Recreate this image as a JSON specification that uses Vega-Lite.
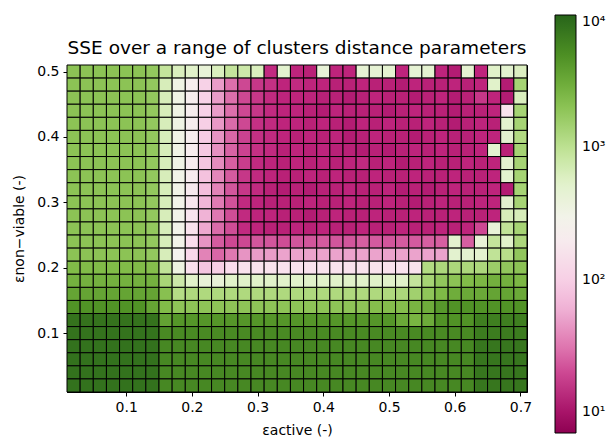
{
"$schema":"https://vega.github.io/schema/vega-lite/v6.json",
"autosize":"none",
"padding":{"left":67,"top":65,"right":88,"bottom":50},
"width":460,"height":327,
"background":"white",
"title":{"text":"SSE over a range of clusters distance parameters","fontSize":18.5,"fontWeight":"normal","font":"DejaVu Sans","color":"black","offset":8,"anchor":"middle","dy":50},
"data":{"values":[
{"x":0.02,"y":0.5,"v":2000},{"x":0.04,"y":0.5,"v":2000},{"x":0.06,"y":0.5,"v":2000},{"x":0.08,"y":0.5,"v":2000},{"x":0.1,"y":0.5,"v":2000},{"x":0.12,"y":0.5,"v":2000},{"x":0.14,"y":0.5,"v":1800},{"x":0.16,"y":0.5,"v":900},{"x":0.18,"y":0.5,"v":620},{"x":0.2,"y":0.5,"v":545},{"x":0.22,"y":0.5,"v":420},{"x":0.24,"y":0.5,"v":620},{"x":0.26,"y":0.5,"v":900},{"x":0.28,"y":0.5,"v":780},{"x":0.3,"y":0.5,"v":620},{"x":0.32,"y":0.5,"v":15},{"x":0.34,"y":0.5,"v":500},{"x":0.36,"y":0.5,"v":14},{"x":0.38,"y":0.5,"v":13},{"x":0.4,"y":0.5,"v":420},{"x":0.42,"y":0.5,"v":14},{"x":0.44,"y":0.5,"v":14},{"x":0.46,"y":0.5,"v":450},{"x":0.48,"y":0.5,"v":450},{"x":0.5,"y":0.5,"v":480},{"x":0.52,"y":0.5,"v":14},{"x":0.54,"y":0.5,"v":450},{"x":0.56,"y":0.5,"v":480},{"x":0.58,"y":0.5,"v":14},{"x":0.6,"y":0.5,"v":12},{"x":0.62,"y":0.5,"v":480},{"x":0.64,"y":0.5,"v":14},{"x":0.66,"y":0.5,"v":550},{"x":0.68,"y":0.5,"v":500},{"x":0.7,"y":0.5,"v":600},
{"x":0.02,"y":0.48,"v":2000},{"x":0.04,"y":0.48,"v":2000},{"x":0.06,"y":0.48,"v":2000},{"x":0.08,"y":0.48,"v":2000},{"x":0.1,"y":0.48,"v":2000},{"x":0.12,"y":0.48,"v":2000},{"x":0.14,"y":0.48,"v":1800},{"x":0.16,"y":0.48,"v":650},{"x":0.18,"y":0.48,"v":330},{"x":0.2,"y":0.48,"v":220},{"x":0.22,"y":0.48,"v":105},{"x":0.24,"y":0.48,"v":48},{"x":0.26,"y":0.48,"v":29},{"x":0.28,"y":0.48,"v":20},{"x":0.3,"y":0.48,"v":17},{"x":0.32,"y":0.48,"v":16},{"x":0.34,"y":0.48,"v":14},{"x":0.36,"y":0.48,"v":15},{"x":0.38,"y":0.48,"v":14},{"x":0.4,"y":0.48,"v":14},{"x":0.42,"y":0.48,"v":13},{"x":0.44,"y":0.48,"v":13},{"x":0.46,"y":0.48,"v":14},{"x":0.48,"y":0.48,"v":13},{"x":0.5,"y":0.48,"v":13},{"x":0.52,"y":0.48,"v":12},{"x":0.54,"y":0.48,"v":14},{"x":0.56,"y":0.48,"v":13},{"x":0.58,"y":0.48,"v":13},{"x":0.6,"y":0.48,"v":14},{"x":0.62,"y":0.48,"v":13},{"x":0.64,"y":0.48,"v":14},{"x":0.66,"y":0.48,"v":550},{"x":0.68,"y":0.48,"v":12},{"x":0.7,"y":0.48,"v":1400},
{"x":0.02,"y":0.46,"v":2000},{"x":0.04,"y":0.46,"v":2000},{"x":0.06,"y":0.46,"v":2000},{"x":0.08,"y":0.46,"v":2000},{"x":0.1,"y":0.46,"v":2000},{"x":0.12,"y":0.46,"v":2000},{"x":0.14,"y":0.46,"v":1800},{"x":0.16,"y":0.46,"v":650},{"x":0.18,"y":0.46,"v":330},{"x":0.2,"y":0.46,"v":220},{"x":0.22,"y":0.46,"v":105},{"x":0.24,"y":0.46,"v":48},{"x":0.26,"y":0.46,"v":29},{"x":0.28,"y":0.46,"v":20},{"x":0.3,"y":0.46,"v":17},{"x":0.32,"y":0.46,"v":15},{"x":0.34,"y":0.46,"v":14},{"x":0.36,"y":0.46,"v":14},{"x":0.38,"y":0.46,"v":14},{"x":0.4,"y":0.46,"v":13},{"x":0.42,"y":0.46,"v":13},{"x":0.44,"y":0.46,"v":12},{"x":0.46,"y":0.46,"v":13},{"x":0.48,"y":0.46,"v":14},{"x":0.5,"y":0.46,"v":13},{"x":0.52,"y":0.46,"v":13},{"x":0.54,"y":0.46,"v":12},{"x":0.56,"y":0.46,"v":13},{"x":0.58,"y":0.46,"v":14},{"x":0.6,"y":0.46,"v":12},{"x":0.62,"y":0.46,"v":13},{"x":0.64,"y":0.46,"v":17},{"x":0.66,"y":0.46,"v":14},{"x":0.68,"y":0.46,"v":12},{"x":0.7,"y":0.46,"v":620},
{"x":0.02,"y":0.44,"v":2000},{"x":0.04,"y":0.44,"v":2000},{"x":0.06,"y":0.44,"v":2000},{"x":0.08,"y":0.44,"v":2000},{"x":0.1,"y":0.44,"v":2000},{"x":0.12,"y":0.44,"v":2000},{"x":0.14,"y":0.44,"v":1800},{"x":0.16,"y":0.44,"v":650},{"x":0.18,"y":0.44,"v":330},{"x":0.2,"y":0.44,"v":220},{"x":0.22,"y":0.44,"v":105},{"x":0.24,"y":0.44,"v":48},{"x":0.26,"y":0.44,"v":29},{"x":0.28,"y":0.44,"v":20},{"x":0.3,"y":0.44,"v":17},{"x":0.32,"y":0.44,"v":15},{"x":0.34,"y":0.44,"v":14},{"x":0.36,"y":0.44,"v":14},{"x":0.38,"y":0.44,"v":13},{"x":0.4,"y":0.44,"v":12},{"x":0.42,"y":0.44,"v":14},{"x":0.44,"y":0.44,"v":13},{"x":0.46,"y":0.44,"v":13},{"x":0.48,"y":0.44,"v":13},{"x":0.5,"y":0.44,"v":12},{"x":0.52,"y":0.44,"v":13},{"x":0.54,"y":0.44,"v":14},{"x":0.56,"y":0.44,"v":13},{"x":0.58,"y":0.44,"v":13},{"x":0.6,"y":0.44,"v":12},{"x":0.62,"y":0.44,"v":13},{"x":0.64,"y":0.44,"v":13},{"x":0.66,"y":0.44,"v":14},{"x":0.68,"y":0.44,"v":150},{"x":0.7,"y":0.44,"v":1400},
{"x":0.02,"y":0.42,"v":2000},{"x":0.04,"y":0.42,"v":2000},{"x":0.06,"y":0.42,"v":2000},{"x":0.08,"y":0.42,"v":2000},{"x":0.1,"y":0.42,"v":2000},{"x":0.12,"y":0.42,"v":2000},{"x":0.14,"y":0.42,"v":1800},{"x":0.16,"y":0.42,"v":650},{"x":0.18,"y":0.42,"v":330},{"x":0.2,"y":0.42,"v":220},{"x":0.22,"y":0.42,"v":100},{"x":0.24,"y":0.42,"v":46},{"x":0.26,"y":0.42,"v":28},{"x":0.28,"y":0.42,"v":20},{"x":0.3,"y":0.42,"v":16},{"x":0.32,"y":0.42,"v":15},{"x":0.34,"y":0.42,"v":14},{"x":0.36,"y":0.42,"v":14},{"x":0.38,"y":0.42,"v":13},{"x":0.4,"y":0.42,"v":14},{"x":0.42,"y":0.42,"v":13},{"x":0.44,"y":0.42,"v":12},{"x":0.46,"y":0.42,"v":14},{"x":0.48,"y":0.42,"v":13},{"x":0.5,"y":0.42,"v":14},{"x":0.52,"y":0.42,"v":13},{"x":0.54,"y":0.42,"v":13},{"x":0.56,"y":0.42,"v":14},{"x":0.58,"y":0.42,"v":13},{"x":0.6,"y":0.42,"v":12},{"x":0.62,"y":0.42,"v":13},{"x":0.64,"y":0.42,"v":14},{"x":0.66,"y":0.42,"v":13},{"x":0.68,"y":0.42,"v":500},{"x":0.7,"y":0.42,"v":1400},
{"x":0.02,"y":0.4,"v":2000},{"x":0.04,"y":0.4,"v":2000},{"x":0.06,"y":0.4,"v":2000},{"x":0.08,"y":0.4,"v":2000},{"x":0.1,"y":0.4,"v":2000},{"x":0.12,"y":0.4,"v":2000},{"x":0.14,"y":0.4,"v":1800},{"x":0.16,"y":0.4,"v":650},{"x":0.18,"y":0.4,"v":320},{"x":0.2,"y":0.4,"v":215},{"x":0.22,"y":0.4,"v":95},{"x":0.24,"y":0.4,"v":44},{"x":0.26,"y":0.4,"v":27},{"x":0.28,"y":0.4,"v":19},{"x":0.3,"y":0.4,"v":16},{"x":0.32,"y":0.4,"v":15},{"x":0.34,"y":0.4,"v":14},{"x":0.36,"y":0.4,"v":13},{"x":0.38,"y":0.4,"v":14},{"x":0.4,"y":0.4,"v":13},{"x":0.42,"y":0.4,"v":14},{"x":0.44,"y":0.4,"v":12},{"x":0.46,"y":0.4,"v":13},{"x":0.48,"y":0.4,"v":14},{"x":0.5,"y":0.4,"v":13},{"x":0.52,"y":0.4,"v":13},{"x":0.54,"y":0.4,"v":12},{"x":0.56,"y":0.4,"v":13},{"x":0.58,"y":0.4,"v":14},{"x":0.6,"y":0.4,"v":13},{"x":0.62,"y":0.4,"v":13},{"x":0.64,"y":0.4,"v":14},{"x":0.66,"y":0.4,"v":14},{"x":0.68,"y":0.4,"v":500},{"x":0.7,"y":0.4,"v":1200},
{"x":0.02,"y":0.38,"v":2000},{"x":0.04,"y":0.38,"v":2000},{"x":0.06,"y":0.38,"v":2000},{"x":0.08,"y":0.38,"v":2000},{"x":0.1,"y":0.38,"v":2000},{"x":0.12,"y":0.38,"v":2000},{"x":0.14,"y":0.38,"v":1800},{"x":0.16,"y":0.38,"v":650},{"x":0.18,"y":0.38,"v":320},{"x":0.2,"y":0.38,"v":210},{"x":0.22,"y":0.38,"v":90},{"x":0.24,"y":0.38,"v":42},{"x":0.26,"y":0.38,"v":26},{"x":0.28,"y":0.38,"v":19},{"x":0.3,"y":0.38,"v":16},{"x":0.32,"y":0.38,"v":15},{"x":0.34,"y":0.38,"v":13},{"x":0.36,"y":0.38,"v":14},{"x":0.38,"y":0.38,"v":13},{"x":0.4,"y":0.38,"v":14},{"x":0.42,"y":0.38,"v":13},{"x":0.44,"y":0.38,"v":13},{"x":0.46,"y":0.38,"v":12},{"x":0.48,"y":0.38,"v":13},{"x":0.5,"y":0.38,"v":12},{"x":0.52,"y":0.38,"v":13},{"x":0.54,"y":0.38,"v":14},{"x":0.56,"y":0.38,"v":13},{"x":0.58,"y":0.38,"v":14},{"x":0.6,"y":0.38,"v":13},{"x":0.62,"y":0.38,"v":13},{"x":0.64,"y":0.38,"v":14},{"x":0.66,"y":0.38,"v":500},{"x":0.68,"y":0.38,"v":13},{"x":0.7,"y":0.38,"v":1400},
{"x":0.02,"y":0.36,"v":2000},{"x":0.04,"y":0.36,"v":2000},{"x":0.06,"y":0.36,"v":2000},{"x":0.08,"y":0.36,"v":2000},{"x":0.1,"y":0.36,"v":2000},{"x":0.12,"y":0.36,"v":2000},{"x":0.14,"y":0.36,"v":1800},{"x":0.16,"y":0.36,"v":650},{"x":0.18,"y":0.36,"v":320},{"x":0.2,"y":0.36,"v":205},{"x":0.22,"y":0.36,"v":85},{"x":0.24,"y":0.36,"v":40},{"x":0.26,"y":0.36,"v":25},{"x":0.28,"y":0.36,"v":18},{"x":0.3,"y":0.36,"v":15},{"x":0.32,"y":0.36,"v":14},{"x":0.34,"y":0.36,"v":13},{"x":0.36,"y":0.36,"v":14},{"x":0.38,"y":0.36,"v":13},{"x":0.4,"y":0.36,"v":14},{"x":0.42,"y":0.36,"v":13},{"x":0.44,"y":0.36,"v":14},{"x":0.46,"y":0.36,"v":15},{"x":0.48,"y":0.36,"v":13},{"x":0.5,"y":0.36,"v":14},{"x":0.52,"y":0.36,"v":12},{"x":0.54,"y":0.36,"v":13},{"x":0.56,"y":0.36,"v":14},{"x":0.58,"y":0.36,"v":13},{"x":0.6,"y":0.36,"v":13},{"x":0.62,"y":0.36,"v":14},{"x":0.64,"y":0.36,"v":13},{"x":0.66,"y":0.36,"v":14},{"x":0.68,"y":0.36,"v":500},{"x":0.7,"y":0.36,"v":1400},
{"x":0.02,"y":0.34,"v":2000},{"x":0.04,"y":0.34,"v":2000},{"x":0.06,"y":0.34,"v":2000},{"x":0.08,"y":0.34,"v":2000},{"x":0.1,"y":0.34,"v":2000},{"x":0.12,"y":0.34,"v":2000},{"x":0.14,"y":0.34,"v":1800},{"x":0.16,"y":0.34,"v":650},{"x":0.18,"y":0.34,"v":310},{"x":0.2,"y":0.34,"v":200},{"x":0.22,"y":0.34,"v":80},{"x":0.24,"y":0.34,"v":38},{"x":0.26,"y":0.34,"v":24},{"x":0.28,"y":0.34,"v":17},{"x":0.3,"y":0.34,"v":15},{"x":0.32,"y":0.34,"v":14},{"x":0.34,"y":0.34,"v":13},{"x":0.36,"y":0.34,"v":13},{"x":0.38,"y":0.34,"v":14},{"x":0.4,"y":0.34,"v":13},{"x":0.42,"y":0.34,"v":14},{"x":0.44,"y":0.34,"v":13},{"x":0.46,"y":0.34,"v":13},{"x":0.48,"y":0.34,"v":14},{"x":0.5,"y":0.34,"v":13},{"x":0.52,"y":0.34,"v":13},{"x":0.54,"y":0.34,"v":14},{"x":0.56,"y":0.34,"v":13},{"x":0.58,"y":0.34,"v":13},{"x":0.6,"y":0.34,"v":14},{"x":0.62,"y":0.34,"v":13},{"x":0.64,"y":0.34,"v":13},{"x":0.66,"y":0.34,"v":14},{"x":0.68,"y":0.34,"v":500},{"x":0.7,"y":0.34,"v":1400},
{"x":0.02,"y":0.32,"v":2000},{"x":0.04,"y":0.32,"v":2000},{"x":0.06,"y":0.32,"v":2000},{"x":0.08,"y":0.32,"v":2000},{"x":0.1,"y":0.32,"v":2000},{"x":0.12,"y":0.32,"v":2000},{"x":0.14,"y":0.32,"v":1800},{"x":0.16,"y":0.32,"v":650},{"x":0.18,"y":0.32,"v":310},{"x":0.2,"y":0.32,"v":190},{"x":0.22,"y":0.32,"v":75},{"x":0.24,"y":0.32,"v":36},{"x":0.26,"y":0.32,"v":23},{"x":0.28,"y":0.32,"v":17},{"x":0.3,"y":0.32,"v":15},{"x":0.32,"y":0.32,"v":13},{"x":0.34,"y":0.32,"v":12},{"x":0.36,"y":0.32,"v":13},{"x":0.38,"y":0.32,"v":12},{"x":0.4,"y":0.32,"v":13},{"x":0.42,"y":0.32,"v":13},{"x":0.44,"y":0.32,"v":14},{"x":0.46,"y":0.32,"v":13},{"x":0.48,"y":0.32,"v":13},{"x":0.5,"y":0.32,"v":14},{"x":0.52,"y":0.32,"v":12},{"x":0.54,"y":0.32,"v":13},{"x":0.56,"y":0.32,"v":12},{"x":0.58,"y":0.32,"v":13},{"x":0.6,"y":0.32,"v":14},{"x":0.62,"y":0.32,"v":13},{"x":0.64,"y":0.32,"v":13},{"x":0.66,"y":0.32,"v":14},{"x":0.68,"y":0.32,"v":12},{"x":0.7,"y":0.32,"v":1400},
{"x":0.02,"y":0.3,"v":2000},{"x":0.04,"y":0.3,"v":2000},{"x":0.06,"y":0.3,"v":2000},{"x":0.08,"y":0.3,"v":2000},{"x":0.1,"y":0.3,"v":2000},{"x":0.12,"y":0.3,"v":2000},{"x":0.14,"y":0.3,"v":1800},{"x":0.16,"y":0.3,"v":650},{"x":0.18,"y":0.3,"v":300},{"x":0.2,"y":0.3,"v":170},{"x":0.22,"y":0.3,"v":65},{"x":0.24,"y":0.3,"v":33},{"x":0.26,"y":0.3,"v":22},{"x":0.28,"y":0.3,"v":15},{"x":0.3,"y":0.3,"v":14},{"x":0.32,"y":0.3,"v":13},{"x":0.34,"y":0.3,"v":13},{"x":0.36,"y":0.3,"v":13},{"x":0.38,"y":0.3,"v":14},{"x":0.4,"y":0.3,"v":13},{"x":0.42,"y":0.3,"v":13},{"x":0.44,"y":0.3,"v":14},{"x":0.46,"y":0.3,"v":13},{"x":0.48,"y":0.3,"v":13},{"x":0.5,"y":0.3,"v":14},{"x":0.52,"y":0.3,"v":13},{"x":0.54,"y":0.3,"v":12},{"x":0.56,"y":0.3,"v":13},{"x":0.58,"y":0.3,"v":14},{"x":0.6,"y":0.3,"v":13},{"x":0.62,"y":0.3,"v":13},{"x":0.64,"y":0.3,"v":14},{"x":0.66,"y":0.3,"v":14},{"x":0.68,"y":0.3,"v":500},{"x":0.7,"y":0.3,"v":1400},
{"x":0.02,"y":0.28,"v":2000},{"x":0.04,"y":0.28,"v":2000},{"x":0.06,"y":0.28,"v":2000},{"x":0.08,"y":0.28,"v":2000},{"x":0.1,"y":0.28,"v":2000},{"x":0.12,"y":0.28,"v":2000},{"x":0.14,"y":0.28,"v":1800},{"x":0.16,"y":0.28,"v":650},{"x":0.18,"y":0.28,"v":300},{"x":0.2,"y":0.28,"v":160},{"x":0.22,"y":0.28,"v":62},{"x":0.24,"y":0.28,"v":32},{"x":0.26,"y":0.28,"v":21},{"x":0.28,"y":0.28,"v":15},{"x":0.3,"y":0.28,"v":14},{"x":0.32,"y":0.28,"v":14},{"x":0.34,"y":0.28,"v":13},{"x":0.36,"y":0.28,"v":13},{"x":0.38,"y":0.28,"v":12},{"x":0.4,"y":0.28,"v":13},{"x":0.42,"y":0.28,"v":14},{"x":0.44,"y":0.28,"v":13},{"x":0.46,"y":0.28,"v":13},{"x":0.48,"y":0.28,"v":14},{"x":0.5,"y":0.28,"v":13},{"x":0.52,"y":0.28,"v":13},{"x":0.54,"y":0.28,"v":14},{"x":0.56,"y":0.28,"v":13},{"x":0.58,"y":0.28,"v":13},{"x":0.6,"y":0.28,"v":14},{"x":0.62,"y":0.28,"v":13},{"x":0.64,"y":0.28,"v":13},{"x":0.66,"y":0.28,"v":14},{"x":0.68,"y":0.28,"v":650},{"x":0.7,"y":0.28,"v":650},
{"x":0.02,"y":0.26,"v":2000},{"x":0.04,"y":0.26,"v":2000},{"x":0.06,"y":0.26,"v":2000},{"x":0.08,"y":0.26,"v":2000},{"x":0.1,"y":0.26,"v":2000},{"x":0.12,"y":0.26,"v":2000},{"x":0.14,"y":0.26,"v":1800},{"x":0.16,"y":0.26,"v":650},{"x":0.18,"y":0.26,"v":300},{"x":0.2,"y":0.26,"v":150},{"x":0.22,"y":0.26,"v":55},{"x":0.24,"y":0.26,"v":28},{"x":0.26,"y":0.26,"v":21},{"x":0.28,"y":0.26,"v":15},{"x":0.3,"y":0.26,"v":14},{"x":0.32,"y":0.26,"v":13},{"x":0.34,"y":0.26,"v":13},{"x":0.36,"y":0.26,"v":14},{"x":0.38,"y":0.26,"v":13},{"x":0.4,"y":0.26,"v":14},{"x":0.42,"y":0.26,"v":13},{"x":0.44,"y":0.26,"v":13},{"x":0.46,"y":0.26,"v":14},{"x":0.48,"y":0.26,"v":13},{"x":0.5,"y":0.26,"v":13},{"x":0.52,"y":0.26,"v":14},{"x":0.54,"y":0.26,"v":13},{"x":0.56,"y":0.26,"v":13},{"x":0.58,"y":0.26,"v":14},{"x":0.6,"y":0.26,"v":13},{"x":0.62,"y":0.26,"v":14},{"x":0.64,"y":0.26,"v":20},{"x":0.66,"y":0.26,"v":420},{"x":0.68,"y":0.26,"v":950},{"x":0.7,"y":0.26,"v":1400},
{"x":0.02,"y":0.24,"v":2000},{"x":0.04,"y":0.24,"v":2000},{"x":0.06,"y":0.24,"v":2000},{"x":0.08,"y":0.24,"v":2000},{"x":0.1,"y":0.24,"v":2000},{"x":0.12,"y":0.24,"v":2000},{"x":0.14,"y":0.24,"v":1800},{"x":0.16,"y":0.24,"v":650},{"x":0.18,"y":0.24,"v":300},{"x":0.2,"y":0.24,"v":130},{"x":0.22,"y":0.24,"v":44},{"x":0.24,"y":0.24,"v":24},{"x":0.26,"y":0.24,"v":20},{"x":0.28,"y":0.24,"v":20},{"x":0.3,"y":0.24,"v":23},{"x":0.32,"y":0.24,"v":23},{"x":0.34,"y":0.24,"v":21},{"x":0.36,"y":0.24,"v":23},{"x":0.38,"y":0.24,"v":23},{"x":0.4,"y":0.24,"v":24},{"x":0.42,"y":0.24,"v":23},{"x":0.44,"y":0.24,"v":23},{"x":0.46,"y":0.24,"v":25},{"x":0.48,"y":0.24,"v":24},{"x":0.5,"y":0.24,"v":23},{"x":0.52,"y":0.24,"v":24},{"x":0.54,"y":0.24,"v":24},{"x":0.56,"y":0.24,"v":25},{"x":0.58,"y":0.24,"v":25},{"x":0.6,"y":0.24,"v":500},{"x":0.62,"y":0.24,"v":25},{"x":0.64,"y":0.24,"v":420},{"x":0.66,"y":0.24,"v":900},{"x":0.68,"y":0.24,"v":545},{"x":0.7,"y":0.24,"v":1300},
{"x":0.02,"y":0.22,"v":2000},{"x":0.04,"y":0.22,"v":2000},{"x":0.06,"y":0.22,"v":2000},{"x":0.08,"y":0.22,"v":2000},{"x":0.1,"y":0.22,"v":2000},{"x":0.12,"y":0.22,"v":2000},{"x":0.14,"y":0.22,"v":1800},{"x":0.16,"y":0.22,"v":650},{"x":0.18,"y":0.22,"v":265},{"x":0.2,"y":0.22,"v":115},{"x":0.22,"y":0.22,"v":36},{"x":0.24,"y":0.22,"v":27},{"x":0.26,"y":0.22,"v":32},{"x":0.28,"y":0.22,"v":44},{"x":0.3,"y":0.22,"v":48},{"x":0.32,"y":0.22,"v":48},{"x":0.34,"y":0.22,"v":52},{"x":0.36,"y":0.22,"v":52},{"x":0.38,"y":0.22,"v":52},{"x":0.4,"y":0.22,"v":52},{"x":0.42,"y":0.22,"v":52},{"x":0.44,"y":0.22,"v":52},{"x":0.46,"y":0.22,"v":52},{"x":0.48,"y":0.22,"v":52},{"x":0.5,"y":0.22,"v":52},{"x":0.52,"y":0.22,"v":52},{"x":0.54,"y":0.22,"v":52},{"x":0.56,"y":0.22,"v":52},{"x":0.58,"y":0.22,"v":52},{"x":0.6,"y":0.22,"v":500},{"x":0.62,"y":0.22,"v":500},{"x":0.64,"y":0.22,"v":500},{"x":0.66,"y":0.22,"v":950},{"x":0.68,"y":0.22,"v":1100},{"x":0.7,"y":0.22,"v":1850},
{"x":0.02,"y":0.2,"v":2300},{"x":0.04,"y":0.2,"v":2300},{"x":0.06,"y":0.2,"v":2300},{"x":0.08,"y":0.2,"v":2300},{"x":0.1,"y":0.2,"v":2300},{"x":0.12,"y":0.2,"v":2300},{"x":0.14,"y":0.2,"v":2200},{"x":0.16,"y":0.2,"v":950},{"x":0.18,"y":0.2,"v":350},{"x":0.2,"y":0.2,"v":140},{"x":0.22,"y":0.2,"v":85},{"x":0.24,"y":0.2,"v":100},{"x":0.26,"y":0.2,"v":130},{"x":0.28,"y":0.2,"v":150},{"x":0.3,"y":0.2,"v":150},{"x":0.32,"y":0.2,"v":150},{"x":0.34,"y":0.2,"v":150},{"x":0.36,"y":0.2,"v":150},{"x":0.38,"y":0.2,"v":150},{"x":0.4,"y":0.2,"v":150},{"x":0.42,"y":0.2,"v":150},{"x":0.44,"y":0.2,"v":150},{"x":0.46,"y":0.2,"v":150},{"x":0.48,"y":0.2,"v":150},{"x":0.5,"y":0.2,"v":150},{"x":0.52,"y":0.2,"v":150},{"x":0.54,"y":0.2,"v":150},{"x":0.56,"y":0.2,"v":1200},{"x":0.58,"y":0.2,"v":1300},{"x":0.6,"y":0.2,"v":1300},{"x":0.62,"y":0.2,"v":1300},{"x":0.64,"y":0.2,"v":1300},{"x":0.66,"y":0.2,"v":1600},{"x":0.68,"y":0.2,"v":1850},{"x":0.7,"y":0.2,"v":2000},
{"x":0.02,"y":0.18,"v":2800},{"x":0.04,"y":0.18,"v":2800},{"x":0.06,"y":0.18,"v":2800},{"x":0.08,"y":0.18,"v":2800},{"x":0.1,"y":0.18,"v":2800},{"x":0.12,"y":0.18,"v":2800},{"x":0.14,"y":0.18,"v":2800},{"x":0.16,"y":0.18,"v":1350},{"x":0.18,"y":0.18,"v":780},{"x":0.2,"y":0.18,"v":545},{"x":0.22,"y":0.18,"v":420},{"x":0.24,"y":0.18,"v":420},{"x":0.26,"y":0.18,"v":545},{"x":0.28,"y":0.18,"v":545},{"x":0.3,"y":0.18,"v":545},{"x":0.32,"y":0.18,"v":545},{"x":0.34,"y":0.18,"v":545},{"x":0.36,"y":0.18,"v":545},{"x":0.38,"y":0.18,"v":545},{"x":0.4,"y":0.18,"v":545},{"x":0.42,"y":0.18,"v":545},{"x":0.44,"y":0.18,"v":545},{"x":0.46,"y":0.18,"v":545},{"x":0.48,"y":0.18,"v":545},{"x":0.5,"y":0.18,"v":545},{"x":0.52,"y":0.18,"v":545},{"x":0.54,"y":0.18,"v":900},{"x":0.56,"y":0.18,"v":1400},{"x":0.58,"y":0.18,"v":1850},{"x":0.6,"y":0.18,"v":2000},{"x":0.62,"y":0.18,"v":2300},{"x":0.64,"y":0.18,"v":2500},{"x":0.66,"y":0.18,"v":2850},{"x":0.68,"y":0.18,"v":2850},{"x":0.7,"y":0.18,"v":2500},
{"x":0.02,"y":0.16,"v":3500},{"x":0.04,"y":0.16,"v":3500},{"x":0.06,"y":0.16,"v":3500},{"x":0.08,"y":0.16,"v":3500},{"x":0.1,"y":0.16,"v":3500},{"x":0.12,"y":0.16,"v":3500},{"x":0.14,"y":0.16,"v":3500},{"x":0.16,"y":0.16,"v":2100},{"x":0.18,"y":0.16,"v":1150},{"x":0.2,"y":0.16,"v":1250},{"x":0.22,"y":0.16,"v":1250},{"x":0.24,"y":0.16,"v":1250},{"x":0.26,"y":0.16,"v":1250},{"x":0.28,"y":0.16,"v":1250},{"x":0.3,"y":0.16,"v":1250},{"x":0.32,"y":0.16,"v":1250},{"x":0.34,"y":0.16,"v":1250},{"x":0.36,"y":0.16,"v":1250},{"x":0.38,"y":0.16,"v":1250},{"x":0.4,"y":0.16,"v":1250},{"x":0.42,"y":0.16,"v":1250},{"x":0.44,"y":0.16,"v":1250},{"x":0.46,"y":0.16,"v":1250},{"x":0.48,"y":0.16,"v":1250},{"x":0.5,"y":0.16,"v":1250},{"x":0.52,"y":0.16,"v":1300},{"x":0.54,"y":0.16,"v":1500},{"x":0.56,"y":0.16,"v":1900},{"x":0.58,"y":0.16,"v":2400},{"x":0.6,"y":0.16,"v":3000},{"x":0.62,"y":0.16,"v":3200},{"x":0.64,"y":0.16,"v":3200},{"x":0.66,"y":0.16,"v":3500},{"x":0.68,"y":0.16,"v":3500},{"x":0.7,"y":0.16,"v":3200},
{"x":0.02,"y":0.14,"v":4700},{"x":0.04,"y":0.14,"v":4700},{"x":0.06,"y":0.14,"v":4700},{"x":0.08,"y":0.14,"v":4700},{"x":0.1,"y":0.14,"v":4700},{"x":0.12,"y":0.14,"v":4700},{"x":0.14,"y":0.14,"v":3500},{"x":0.16,"y":0.14,"v":2300},{"x":0.18,"y":0.14,"v":1950},{"x":0.2,"y":0.14,"v":1950},{"x":0.22,"y":0.14,"v":1950},{"x":0.24,"y":0.14,"v":1950},{"x":0.26,"y":0.14,"v":1950},{"x":0.28,"y":0.14,"v":1950},{"x":0.3,"y":0.14,"v":1950},{"x":0.32,"y":0.14,"v":1950},{"x":0.34,"y":0.14,"v":1950},{"x":0.36,"y":0.14,"v":1950},{"x":0.38,"y":0.14,"v":1950},{"x":0.4,"y":0.14,"v":1950},{"x":0.42,"y":0.14,"v":1950},{"x":0.44,"y":0.14,"v":1950},{"x":0.46,"y":0.14,"v":1950},{"x":0.48,"y":0.14,"v":2200},{"x":0.5,"y":0.14,"v":2200},{"x":0.52,"y":0.14,"v":2200},{"x":0.54,"y":0.14,"v":2600},{"x":0.56,"y":0.14,"v":3000},{"x":0.58,"y":0.14,"v":4300},{"x":0.6,"y":0.14,"v":4700},{"x":0.62,"y":0.14,"v":4700},{"x":0.64,"y":0.14,"v":4700},{"x":0.66,"y":0.14,"v":4700},{"x":0.68,"y":0.14,"v":4700},{"x":0.7,"y":0.14,"v":4700},
{"x":0.02,"y":0.12,"v":7800},{"x":0.04,"y":0.12,"v":7800},{"x":0.06,"y":0.12,"v":7800},{"x":0.08,"y":0.12,"v":7800},{"x":0.1,"y":0.12,"v":7800},{"x":0.12,"y":0.12,"v":7800},{"x":0.14,"y":0.12,"v":7800},{"x":0.16,"y":0.12,"v":3600},{"x":0.18,"y":0.12,"v":4400},{"x":0.2,"y":0.12,"v":4400},{"x":0.22,"y":0.12,"v":4400},{"x":0.24,"y":0.12,"v":4400},{"x":0.26,"y":0.12,"v":4400},{"x":0.28,"y":0.12,"v":4400},{"x":0.3,"y":0.12,"v":4400},{"x":0.32,"y":0.12,"v":4400},{"x":0.34,"y":0.12,"v":4400},{"x":0.36,"y":0.12,"v":4400},{"x":0.38,"y":0.12,"v":4400},{"x":0.4,"y":0.12,"v":4400},{"x":0.42,"y":0.12,"v":4400},{"x":0.44,"y":0.12,"v":4400},{"x":0.46,"y":0.12,"v":4400},{"x":0.48,"y":0.12,"v":4400},{"x":0.5,"y":0.12,"v":4400},{"x":0.52,"y":0.12,"v":3200},{"x":0.54,"y":0.12,"v":2600},{"x":0.56,"y":0.12,"v":3100},{"x":0.58,"y":0.12,"v":4700},{"x":0.6,"y":0.12,"v":4700},{"x":0.62,"y":0.12,"v":4700},{"x":0.64,"y":0.12,"v":6500},{"x":0.66,"y":0.12,"v":6500},{"x":0.68,"y":0.12,"v":6500},{"x":0.7,"y":0.12,"v":6500},
{"x":0.02,"y":0.1,"v":7900},{"x":0.04,"y":0.1,"v":7900},{"x":0.06,"y":0.1,"v":7900},{"x":0.08,"y":0.1,"v":7900},{"x":0.1,"y":0.1,"v":7900},{"x":0.12,"y":0.1,"v":7900},{"x":0.14,"y":0.1,"v":7900},{"x":0.16,"y":0.1,"v":5400},{"x":0.18,"y":0.1,"v":5400},{"x":0.2,"y":0.1,"v":5400},{"x":0.22,"y":0.1,"v":5400},{"x":0.24,"y":0.1,"v":5400},{"x":0.26,"y":0.1,"v":5400},{"x":0.28,"y":0.1,"v":5400},{"x":0.3,"y":0.1,"v":5400},{"x":0.32,"y":0.1,"v":5400},{"x":0.34,"y":0.1,"v":5400},{"x":0.36,"y":0.1,"v":5400},{"x":0.38,"y":0.1,"v":5400},{"x":0.4,"y":0.1,"v":5400},{"x":0.42,"y":0.1,"v":5400},{"x":0.44,"y":0.1,"v":5400},{"x":0.46,"y":0.1,"v":5400},{"x":0.48,"y":0.1,"v":5400},{"x":0.5,"y":0.1,"v":5400},{"x":0.52,"y":0.1,"v":5400},{"x":0.54,"y":0.1,"v":5400},{"x":0.56,"y":0.1,"v":5400},{"x":0.58,"y":0.1,"v":5400},{"x":0.6,"y":0.1,"v":5400},{"x":0.62,"y":0.1,"v":5400},{"x":0.64,"y":0.1,"v":6800},{"x":0.66,"y":0.1,"v":6800},{"x":0.68,"y":0.1,"v":6800},{"x":0.7,"y":0.1,"v":6800},
{"x":0.02,"y":0.08,"v":8000},{"x":0.04,"y":0.08,"v":8000},{"x":0.06,"y":0.08,"v":8000},{"x":0.08,"y":0.08,"v":8000},{"x":0.1,"y":0.08,"v":8000},{"x":0.12,"y":0.08,"v":8000},{"x":0.14,"y":0.08,"v":8000},{"x":0.16,"y":0.08,"v":5600},{"x":0.18,"y":0.08,"v":5600},{"x":0.2,"y":0.08,"v":5600},{"x":0.22,"y":0.08,"v":5600},{"x":0.24,"y":0.08,"v":5600},{"x":0.26,"y":0.08,"v":5600},{"x":0.28,"y":0.08,"v":5600},{"x":0.3,"y":0.08,"v":5600},{"x":0.32,"y":0.08,"v":5600},{"x":0.34,"y":0.08,"v":5600},{"x":0.36,"y":0.08,"v":5600},{"x":0.38,"y":0.08,"v":5600},{"x":0.4,"y":0.08,"v":5600},{"x":0.42,"y":0.08,"v":5600},{"x":0.44,"y":0.08,"v":5600},{"x":0.46,"y":0.08,"v":5600},{"x":0.48,"y":0.08,"v":5600},{"x":0.5,"y":0.08,"v":5600},{"x":0.52,"y":0.08,"v":5600},{"x":0.54,"y":0.08,"v":5600},{"x":0.56,"y":0.08,"v":5600},{"x":0.58,"y":0.08,"v":5600},{"x":0.6,"y":0.08,"v":5600},{"x":0.62,"y":0.08,"v":5600},{"x":0.64,"y":0.08,"v":7500},{"x":0.66,"y":0.08,"v":7500},{"x":0.68,"y":0.08,"v":7500},{"x":0.7,"y":0.08,"v":7500},
{"x":0.02,"y":0.06,"v":8000},{"x":0.04,"y":0.06,"v":8000},{"x":0.06,"y":0.06,"v":8000},{"x":0.08,"y":0.06,"v":8000},{"x":0.1,"y":0.06,"v":8000},{"x":0.12,"y":0.06,"v":8000},{"x":0.14,"y":0.06,"v":8000},{"x":0.16,"y":0.06,"v":5600},{"x":0.18,"y":0.06,"v":5600},{"x":0.2,"y":0.06,"v":5600},{"x":0.22,"y":0.06,"v":5600},{"x":0.24,"y":0.06,"v":5600},{"x":0.26,"y":0.06,"v":5600},{"x":0.28,"y":0.06,"v":5600},{"x":0.3,"y":0.06,"v":5600},{"x":0.32,"y":0.06,"v":5600},{"x":0.34,"y":0.06,"v":5600},{"x":0.36,"y":0.06,"v":5600},{"x":0.38,"y":0.06,"v":5600},{"x":0.4,"y":0.06,"v":5600},{"x":0.42,"y":0.06,"v":5600},{"x":0.44,"y":0.06,"v":5600},{"x":0.46,"y":0.06,"v":5600},{"x":0.48,"y":0.06,"v":5600},{"x":0.5,"y":0.06,"v":5600},{"x":0.52,"y":0.06,"v":5600},{"x":0.54,"y":0.06,"v":5600},{"x":0.56,"y":0.06,"v":5600},{"x":0.58,"y":0.06,"v":5600},{"x":0.6,"y":0.06,"v":5600},{"x":0.62,"y":0.06,"v":5600},{"x":0.64,"y":0.06,"v":7500},{"x":0.66,"y":0.06,"v":7500},{"x":0.68,"y":0.06,"v":7500},{"x":0.7,"y":0.06,"v":7500},
{"x":0.02,"y":0.04,"v":8000},{"x":0.04,"y":0.04,"v":8000},{"x":0.06,"y":0.04,"v":8000},{"x":0.08,"y":0.04,"v":8000},{"x":0.1,"y":0.04,"v":8000},{"x":0.12,"y":0.04,"v":8000},{"x":0.14,"y":0.04,"v":8000},{"x":0.16,"y":0.04,"v":5600},{"x":0.18,"y":0.04,"v":5600},{"x":0.2,"y":0.04,"v":5600},{"x":0.22,"y":0.04,"v":5600},{"x":0.24,"y":0.04,"v":5600},{"x":0.26,"y":0.04,"v":5600},{"x":0.28,"y":0.04,"v":5600},{"x":0.3,"y":0.04,"v":5600},{"x":0.32,"y":0.04,"v":5600},{"x":0.34,"y":0.04,"v":5600},{"x":0.36,"y":0.04,"v":5600},{"x":0.38,"y":0.04,"v":5600},{"x":0.4,"y":0.04,"v":5600},{"x":0.42,"y":0.04,"v":5600},{"x":0.44,"y":0.04,"v":5600},{"x":0.46,"y":0.04,"v":5600},{"x":0.48,"y":0.04,"v":5600},{"x":0.5,"y":0.04,"v":5600},{"x":0.52,"y":0.04,"v":5600},{"x":0.54,"y":0.04,"v":5600},{"x":0.56,"y":0.04,"v":5600},{"x":0.58,"y":0.04,"v":5600},{"x":0.6,"y":0.04,"v":5600},{"x":0.62,"y":0.04,"v":5600},{"x":0.64,"y":0.04,"v":7500},{"x":0.66,"y":0.04,"v":7500},{"x":0.68,"y":0.04,"v":7500},{"x":0.7,"y":0.04,"v":7500},
{"x":0.02,"y":0.02,"v":8000},{"x":0.04,"y":0.02,"v":8000},{"x":0.06,"y":0.02,"v":8000},{"x":0.08,"y":0.02,"v":8000},{"x":0.1,"y":0.02,"v":8000},{"x":0.12,"y":0.02,"v":8000},{"x":0.14,"y":0.02,"v":8000},{"x":0.16,"y":0.02,"v":5600},{"x":0.18,"y":0.02,"v":5600},{"x":0.2,"y":0.02,"v":5600},{"x":0.22,"y":0.02,"v":5600},{"x":0.24,"y":0.02,"v":5600},{"x":0.26,"y":0.02,"v":5600},{"x":0.28,"y":0.02,"v":5600},{"x":0.3,"y":0.02,"v":5600},{"x":0.32,"y":0.02,"v":5600},{"x":0.34,"y":0.02,"v":5600},{"x":0.36,"y":0.02,"v":5600},{"x":0.38,"y":0.02,"v":5600},{"x":0.4,"y":0.02,"v":5600},{"x":0.42,"y":0.02,"v":5600},{"x":0.44,"y":0.02,"v":5600},{"x":0.46,"y":0.02,"v":5600},{"x":0.48,"y":0.02,"v":5600},{"x":0.5,"y":0.02,"v":5600},{"x":0.52,"y":0.02,"v":5600},{"x":0.54,"y":0.02,"v":5600},{"x":0.56,"y":0.02,"v":5600},{"x":0.58,"y":0.02,"v":5600},{"x":0.6,"y":0.02,"v":5600},{"x":0.62,"y":0.02,"v":5600},{"x":0.64,"y":0.02,"v":7500},{"x":0.66,"y":0.02,"v":7500},{"x":0.68,"y":0.02,"v":7500},{"x":0.7,"y":0.02,"v":7500}
]},
"mark":{"type":"rect","width":13.14,"height":13.08,"stroke":"black","strokeWidth":1},
"encoding":{
"x":{"field":"x","type":"quantitative","scale":{"domain":[0.01,0.71],"nice":false,"zero":false},
"axis":{"title":"εactive (-)","values":[0.1,0.2,0.3,0.4,0.5,0.6,0.7],"format":".1f","grid":false,"tickSize":4,"labelPadding":4,"titlePadding":9}},
"y":{"field":"y","type":"quantitative","scale":{"domain":[0.01,0.51],"nice":false,"zero":false},
"axis":{"title":"εnon−viable (-)","values":[0.1,0.2,0.3,0.4,0.5],"format":".1f","grid":false,"tickSize":4,"labelPadding":4,"titlePadding":10}},
"color":{"field":"v","type":"quantitative","scale":{"type":"log","domain":[7,10000],"scheme":"pinkyellowgreen","clamp":true},
"legend":{"orient":"none","legendX":488,"legendY":-50,"direction":"vertical","gradientLength":418,"gradientThickness":21,"gradientStrokeColor":"black","gradientStrokeWidth":1,"values":[10,100,1000,10000],"labelExpr":"datum.value >= 10000 ? '10⁴' : datum.value >= 1000 ? '10³' : datum.value >= 100 ? '10²' : '10¹'","labelFontSize":14,"labelFont":"DejaVu Sans","labelColor":"black","labelBaseline":"middle","labelOffset":6,"title":null}}
},
"config":{
"view":{"stroke":"black","strokeWidth":1},
"axis":{"labelFont":"DejaVu Sans","labelFontSize":14,"labelColor":"black","titleFont":"DejaVu Sans","titleFontSize":14,"titleFontWeight":"normal","titleColor":"black","tickColor":"black","domainColor":"black","domainWidth":1,"labelAngle":0}
}
}
